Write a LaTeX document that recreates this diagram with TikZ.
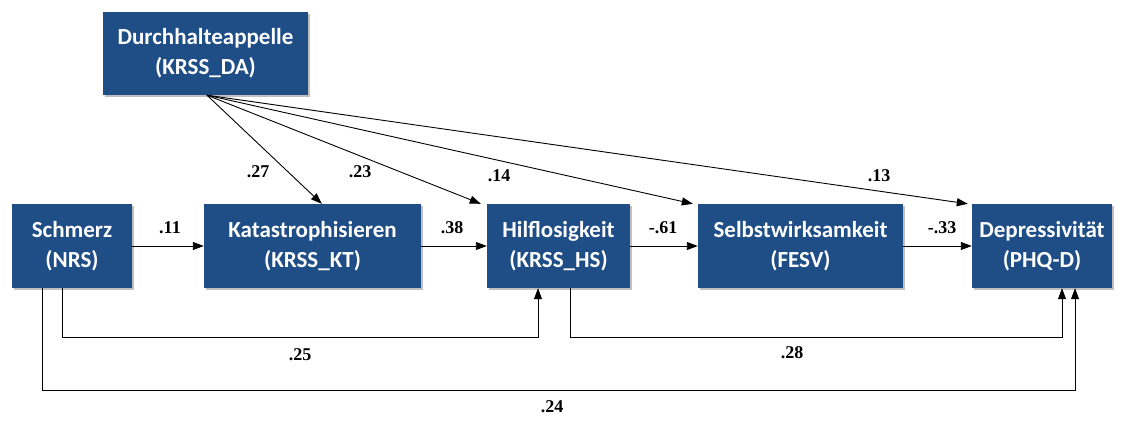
\documentclass[tikz,border=0pt]{standalone}
\usepackage{fontspec}
\setmainfont{Carlito}
\newfontfamily\labfont{Liberation Serif}
\usetikzlibrary{arrows.meta,calc,shadows}
\definecolor{boxblue}{RGB}{31,77,134}
\tikzset{
  box/.style={draw=none, fill=boxblue, text=white, align=center,
    font=\bfseries\fontsize{23}{30}\selectfont, inner sep=0pt,
    minimum height=84pt,
    general shadow={fill=black!25, shadow xshift=1.5pt, shadow yshift=-1.5pt}},
  arr/.style={draw=black, line width=0.9pt, -{Triangle[length=11pt,width=8pt]}},
  lab/.style={font=\labfont\bfseries\fontsize{18}{20}\selectfont, inner sep=0pt}
}
\begin{document}
\begin{tikzpicture}[x=1pt,y=-1pt]
\useasboundingbox (0,0) rectangle (1121,421);
\node[box, minimum width=205pt, minimum height=83pt] (da) at (205.5,53.5) {Durchhalteappelle\\(KRSS\_DA)};
\node[box, minimum width=120pt] (nrs) at (72,246) {Schmerz\\(NRS)};
\node[box, minimum width=217pt] (kt) at (312.5,246) {Katastrophisieren\\(KRSS\_KT)};
\node[box, minimum width=143pt] (hs) at (558.5,246) {Hilflosigkeit\\(KRSS\_HS)};
\node[box, minimum width=205pt] (fesv) at (800.5,246) {Selbstwirksamkeit\\(FESV)};
\node[box, minimum width=140pt] (phq) at (1042,246) {Depressivität\\(PHQ-D)};

% horizontal arrows
\draw[arr] (nrs) -- (kt);
\draw[arr] (kt) -- (hs);
\draw[arr] (hs) -- (fesv);
\draw[arr] (fesv) -- (phq);

% diagonal arrows from DA
\coordinate (dsrc) at ($(da.south)+(1.5,0)$);
\draw[arr] (dsrc) -- ($(kt.north west)+(118,0)$);
\draw[arr] (dsrc) -- ($(hs.north west)+(-6,0)$);
\draw[arr] (dsrc) -- ($(fesv.north west)+(-5,0)$);
\draw[arr] (dsrc) -- ($(phq.north west)+(-4,0)$);

% bottom paths
\coordinate (y1) at (0,337);
\coordinate (y2) at (0,390);
\draw[arr] ([xshift=-10pt]nrs.south) -- ([xshift=-10pt]nrs.south |- y1) -| ([xshift=-20.5pt]hs.south);
\draw[arr] ([xshift=11.5pt]hs.south) -- ([xshift=11.5pt]hs.south |- y1) -| ([xshift=20pt]phq.south);
\draw[arr] ([xshift=-30pt]nrs.south) -- ([xshift=-30pt]nrs.south |- y2) -| ([xshift=33pt]phq.south);

% labels
\node[lab] (l11) at (170,228) {.11};
\node[lab] (l38) at (452,228) {.38};
\node[lab] (l61) at (663,228) {-.61};
\node[lab] (l33) at (942,228) {-.33};
\node[lab] (l27) at (258,172) {.27};
\node[lab] (l23) at (360,172) {.23};
\node[lab] (l14) at (499,176) {.14};
\node[lab] (l13) at (879,176) {.13};
\node[lab] (l25) at (300,355) {.25};
\node[lab] (l28) at (792,353) {.28};
\node[lab] (l24) at (552,407) {.24};
\end{tikzpicture}
\end{document}
